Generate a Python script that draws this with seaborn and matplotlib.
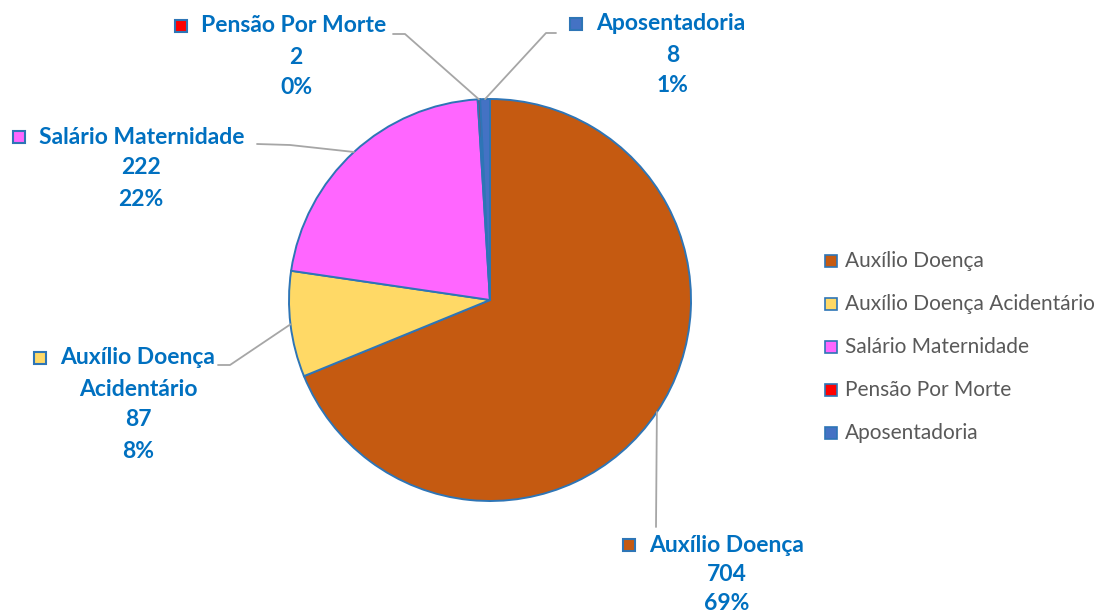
import numpy as np
import matplotlib
matplotlib.use("Agg")
import matplotlib.pyplot as plt
from matplotlib.patches import Rectangle
import seaborn as sns

# ---- data ----
categories = ["Auxílio Doença", "Auxílio Doença Acidentário", "Salário Maternidade",
              "Pensão Por Morte", "Aposentadoria"]
values = [704, 87, 222, 2, 8]
percent_labels = ["69%", "8%", "22%", "0%", "1%"]
label_lines = [["Auxílio Doença"], ["Auxílio Doença", "Acidentário"], ["Salário Maternidade"],
               ["Pensão Por Morte"], ["Aposentadoria"]]
colors = ["#C55A11", "#FFD966", "#FF66FF", "#FF0000", "#4472C4"]

sns.set_theme(style="white")
plt.rcParams['font.family'] = ['Lato', 'DejaVu Sans']

W, H = 1098, 616
fig = plt.figure(figsize=(W / 100, H / 100), dpi=100)
ax = fig.add_axes([0, 0, 1, 1])
ax.set_xlim(0, W)
ax.set_ylim(0, H)
ax.axis("off")

def Y(y):
    return H - y

cx, cy, R = 490, 300, 201
wedges, _ = ax.pie(values, colors=colors, startangle=90, counterclock=False,
                   center=(cx, Y(cy)), radius=R, frame=True,
                   wedgeprops=dict(edgecolor="#2E75B6", linewidth=1.4))
ax.set_xlim(0, W)
ax.set_ylim(0, H)
ax.set_aspect("equal")
ax.axis("off")

text_color = "#0070C0"
line_color = "#A6A6A6"
edge_blue = "#2E75B6"
fs = 16.5
lh = 31

# label layout: (block center x, first line y, square x, elbow point, text-side point, line step)
layout = [
    dict(cx=727, y0=545, sq=629, elbow=(656, 527), tip=(656, 527), lh=29.5),
    dict(cx=138, y0=358, sq=40, elbow=(230, 365), tip=(218, 365), lh=lh),
    dict(cx=141, y0=137, sq=19, elbow=(290, 145), tip=(257, 144), lh=lh),
    dict(cx=296, y0=26, sq=181, elbow=(405, 34), tip=(393, 34), lh=lh),
    dict(cx=673, y0=24, sq=576, elbow=(546, 33), tip=(556, 33), lh=lh),
]

for i, (w, lay) in enumerate(zip(wedges, layout)):
    th = np.deg2rad((w.theta1 + w.theta2) / 2)
    ax_pt = (cx + R * np.cos(th), cy - R * np.sin(th))
    xs = [ax_pt[0], lay["elbow"][0], lay["tip"][0]]
    ys = [Y(ax_pt[1]), Y(lay["elbow"][1]), Y(lay["tip"][1])]
    ax.plot(xs, ys, color=line_color, lw=1.3, zorder=1)
    lines = label_lines[i] + [str(values[i]), percent_labels[i]]
    for k, t in enumerate(lines):
        y = lay["y0"] + k * lay["lh"]
        if k == 0:
            ax.text(lay["sq"] + 20, Y(y), t, color=text_color, fontsize=fs, fontweight="bold",
                    ha="left", va="center")
            ax.add_patch(Rectangle((lay["sq"] - 6, Y(y) - 6), 12, 12, facecolor=colors[i],
                                   edgecolor=edge_blue, lw=1.5, zorder=3))
        else:
            ax.text(lay["cx"], Y(y), t, color=text_color, fontsize=fs, fontweight="bold",
                    ha="center", va="center")

# legend
leg_x, leg_y0, leg_dy = 831, 261, 43
for i, c in enumerate(categories):
    y = leg_y0 + i * leg_dy
    ax.add_patch(Rectangle((leg_x - 6, Y(y) - 6), 12, 12, facecolor=colors[i],
                           edgecolor=edge_blue, lw=1.2, zorder=3))
    ax.text(leg_x + 14, Y(y), c, color="#595959", fontsize=15, ha="left", va="center")

fig.savefig("out.png", dpi=100, facecolor="white")
